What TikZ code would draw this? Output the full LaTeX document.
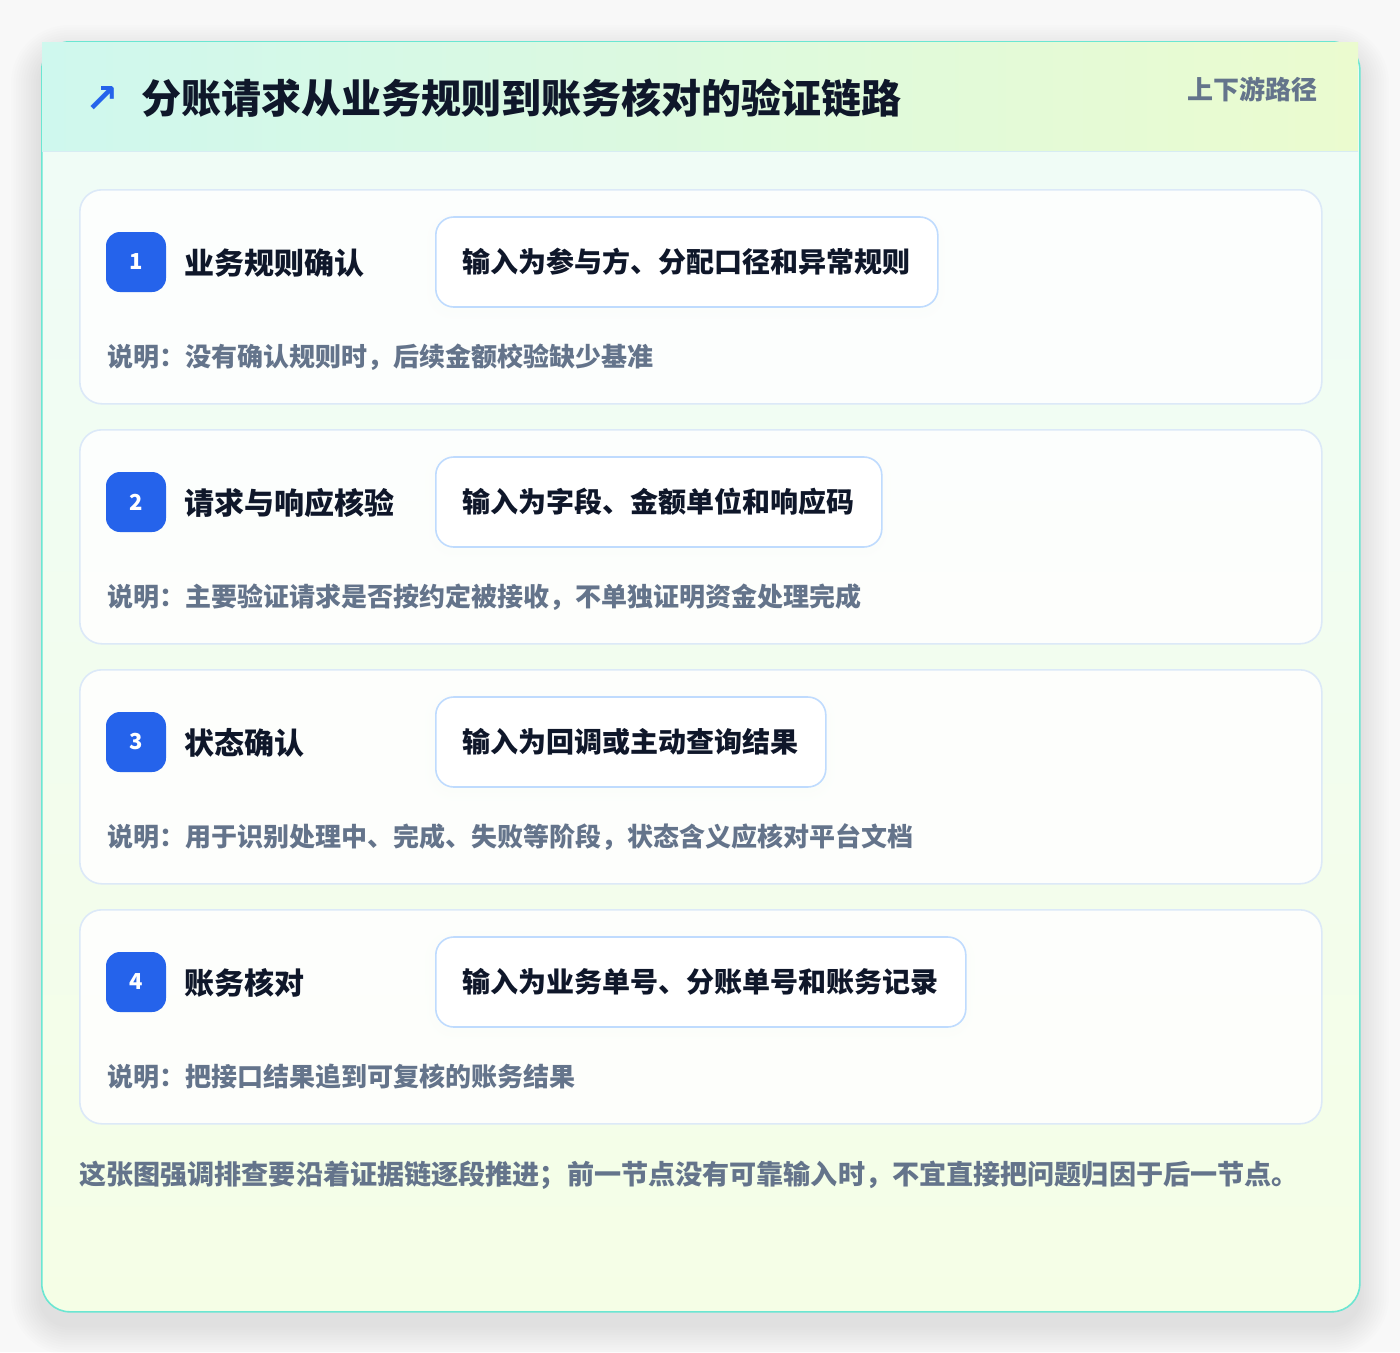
\documentclass[tikz,border=0pt]{standalone}
\usepackage{fontspec}
\setmainfont{Noto Sans CJK SC}
\newfontfamily\symfont{DejaVu Sans}
\definecolor{pagebg}{HTML}{F8F8F8}
\definecolor{cardline}{HTML}{6BE6D2}
\definecolor{headl}{HTML}{CFF8EE}
\definecolor{headr}{HTML}{EBFBCF}
\definecolor{headline}{HTML}{D7ECF3}
\definecolor{bodytop}{HTML}{EFFCF8}
\definecolor{bodybot}{HTML}{F5FEE6}
\definecolor{stepline}{HTML}{DCE9F8}
\definecolor{inline}{HTML}{BFDBFE}
\definecolor{badge}{HTML}{2563EB}
\definecolor{ink}{HTML}{0F172A}
\definecolor{muted}{HTML}{64748B}
\tikzset{
  fs/.style={font=\bfseries\fontsize{#1}{#1}\selectfont},
  stepcard/.style={draw=stepline, line width=1.6pt, fill=white, fill opacity=0.85, text opacity=1,
    rounded corners=22pt, minimum width=1242pt, minimum height=214pt, anchor=north west, inner sep=0pt},
  badgebox/.style={fill=badge, rounded corners=14pt, minimum size=60pt, inner sep=0pt, text=white, fs=22},
  steptitle/.style={anchor=west, inner sep=0pt, text=ink, fs=30},
  inputbox/.style={anchor=west, draw=inline, line width=1.6pt, fill=white, rounded corners=18pt,
    minimum height=90pt, inner xsep=27pt, inner ysep=0pt, text=ink, fs=28},
  desc/.style={anchor=west, inner sep=0pt, text=muted, fs=26},
}
\begin{document}
\begin{tikzpicture}[x=1pt,y=-1pt]
\useasboundingbox (0,0) rectangle (1400,1352);
\fill[pagebg] (0,0) rectangle (1400,1352);
% soft shadow of the outer card
\foreach \i in {1,...,12}{
  \fill[black, opacity=0.009, rounded corners={28pt+\i*2.5pt}]
    ({41-\i*2.5},{41-\i*2.5+14}) rectangle ({1359+\i*2.5},{1311+\i*2.5+14});
}
% outer card
\node[anchor=north west, minimum width=1318pt, minimum height=1270pt, inner sep=0pt,
  rounded corners=28pt, draw=cardline, line width=1.6pt, top color=bodytop, bottom color=bodybot]
  (card) at (41,41) {};
% header band
\node[anchor=north west, minimum width=1316pt, minimum height=109pt, inner sep=0pt,
  left color=headl, right color=headr] (head) at (42,42) {};
\draw[headline, line width=1.2pt] (head.south west) -- (head.south east);
\node[anchor=center, inner sep=0pt, text=badge, font=\symfont\bfseries\fontsize{40}{40}\selectfont] (icon) at (102,99) {↗};
\node[anchor=west, inner sep=0pt, text=ink, fs=40] (title) at (141,98) {分账请求从业务规则到账务核对的验证链路};
\node[anchor=east, inner sep=0pt, text=muted, fs=26] (tag) at (1318,89) {上下游路径};
% input box shadows
\foreach \y/\w in {262/502,502/446,742/390,982/530}{
  \foreach \k in {1,...,5}{
    \fill[black, opacity=0.008, rounded corners={18pt+\k*2pt}]
      ({435-\k*2},{\y-45-\k*2+4}) rectangle ({435+\w+\k*2},{\y+45+\k*2+4});
  }
}
% step 1
\node[stepcard] (s1) at (79,189) {};
\node[badgebox] (b1) at (136,262) {1};
\node[steptitle] (t1) at (184,263) {业务规则确认};
\node[inputbox] (i1) at (435,262) {输入为参与方、分配口径和异常规则};
\node[desc] (d1) at (107,357) {说明：没有确认规则时，后续金额校验缺少基准};
% step 2
\node[stepcard] (s2) at (79,429) {};
\node[badgebox] (b2) at (136,502) {2};
\node[steptitle] (t2) at (184,503) {请求与响应核验};
\node[inputbox] (i2) at (435,502) {输入为字段、金额单位和响应码};
\node[desc] (d2) at (107,597) {说明：主要验证请求是否按约定被接收，不单独证明资金处理完成};
% step 3
\node[stepcard] (s3) at (79,669) {};
\node[badgebox] (b3) at (136,742) {3};
\node[steptitle] (t3) at (184,743) {状态确认};
\node[inputbox] (i3) at (435,742) {输入为回调或主动查询结果};
\node[desc] (d3) at (107,837) {说明：用于识别处理中、完成、失败等阶段，状态含义应核对平台文档};
% step 4
\node[stepcard] (s4) at (79,909) {};
\node[badgebox] (b4) at (136,982) {4};
\node[steptitle] (t4) at (184,983) {账务核对};
\node[inputbox] (i4) at (435,982) {输入为业务单号、分账单号和账务记录};
\node[desc] (d4) at (107,1077) {说明：把接口结果追到可复核的账务结果};
% footer
\node[anchor=west, inner sep=0pt, text=muted, fs=27.1] (foot) at (79,1175) {这张图强调排查要沿着证据链逐段推进；前一节点没有可靠输入时，不宜直接把问题归因于后一节点。};
\end{tikzpicture}
\end{document}
